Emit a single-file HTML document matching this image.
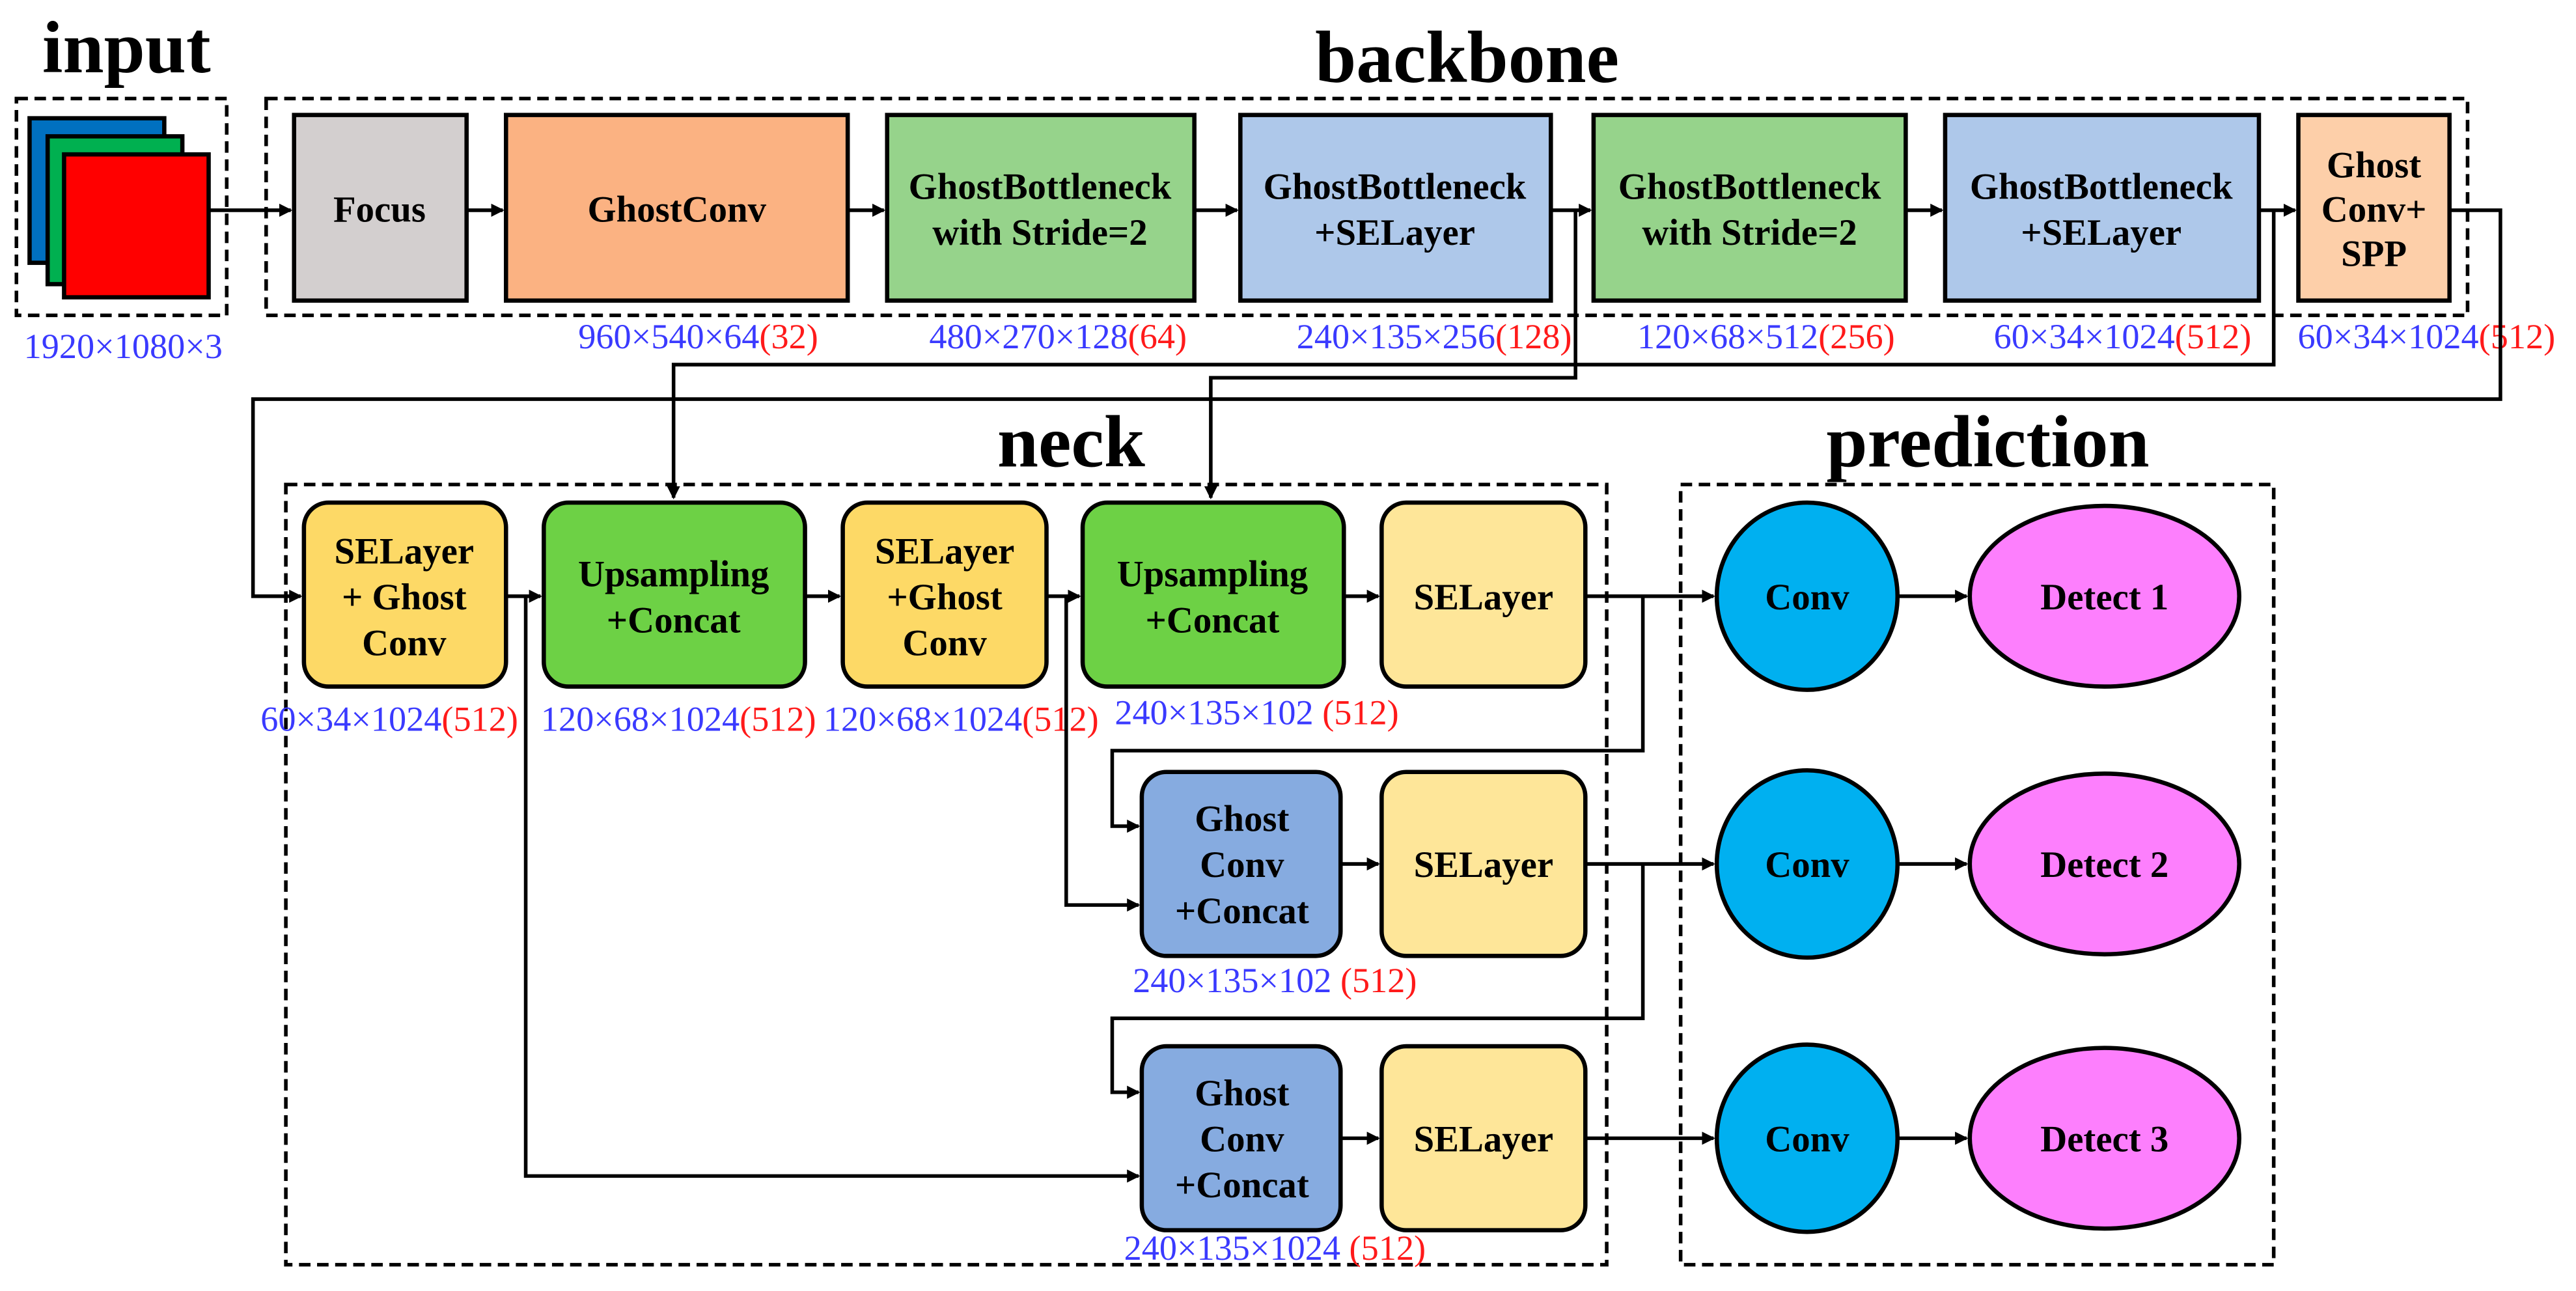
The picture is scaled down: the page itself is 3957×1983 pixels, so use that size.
<!DOCTYPE html>
<html><head><meta charset="utf-8"><style>
html,body{margin:0;padding:0;background:#fff;}
svg{display:block;}
text{font-family:"Liberation Serif",serif;}
.t{font-weight:bold;font-size:22.5px;text-anchor:middle;fill:#000;}
.h{font-weight:bold;font-size:45px;text-anchor:middle;fill:#000;}
.l{font-size:21.5px;text-anchor:middle;fill:#3a3aff;}
.r{fill:#ff1a1a;}
.dash{fill:none;stroke:#000;stroke-width:2.2;stroke-dasharray:7,4;}
.b{stroke:#000;stroke-width:2.6;}
.ln{fill:none;stroke:#000;stroke-width:2.2;}
</style></head><body>
<svg width="3957" height="1983" viewBox="0 0 1568 786" preserveAspectRatio="none" xmlns="http://www.w3.org/2000/svg">
<defs><marker id="a" markerWidth="8" markerHeight="8" refX="7" refY="4" orient="auto" markerUnits="userSpaceOnUse"><path d="M0,0 L8,4 L0,8 z" fill="#000"/></marker></defs>
<rect width="1568" height="786" fill="#fff"/>
<text class="h" x="77" y="44">input</text>
<text class="h" x="893" y="50">backbone</text>
<text class="h" x="652" y="284">neck</text>
<text class="h" x="1210" y="284">prediction</text>
<rect class="dash" x="10" y="60" width="128" height="132"/>
<rect class="dash" x="162" y="60" width="1340" height="132"/>
<rect class="dash" x="174" y="295" width="804" height="475"/>
<rect class="dash" x="1023" y="295" width="361" height="475"/>
<rect class="b" x="18" y="72" width="82" height="88" fill="#0070c0"/>
<rect class="b" x="29" y="83" width="82" height="90" fill="#00b050"/>
<rect class="b" x="39" y="94" width="88" height="87" fill="#ff0000"/>
<text class="l" x="75" y="218">1920×1080×3</text>
<rect class="b" x="179" y="70" width="105" height="113" fill="#d3cfcf"/>
<text class="t" x="231" y="135">Focus</text>
<rect class="b" x="308" y="70" width="208" height="113" fill="#fbb282"/>
<text class="t" x="412" y="135">GhostConv</text>
<rect class="b" x="540" y="70" width="187" height="113" fill="#96d38b"/>
<text class="t" x="633" y="121">GhostBottleneck</text><text class="t" x="633" y="149">with Stride=2</text>
<rect class="b" x="755" y="70" width="189" height="113" fill="#aec8ea"/>
<text class="t" x="849" y="121">GhostBottleneck</text><text class="t" x="849" y="149">+SELayer</text>
<rect class="b" x="970" y="70" width="190" height="113" fill="#96d38b"/>
<text class="t" x="1065" y="121">GhostBottleneck</text><text class="t" x="1065" y="149">with Stride=2</text>
<rect class="b" x="1184" y="70" width="191" height="113" fill="#aec8ea"/>
<text class="t" x="1279" y="121">GhostBottleneck</text><text class="t" x="1279" y="149">+SELayer</text>
<rect class="b" x="1399" y="70" width="92" height="113" fill="#fdcfa9"/>
<text class="t" x="1445" y="108">Ghost</text><text class="t" x="1445" y="135">Conv+</text><text class="t" x="1445" y="162">SPP</text>
<path class="ln" d="M127,128 H177" marker-end="url(#a)"/>
<path class="ln" d="M284,128 H306" marker-end="url(#a)"/>
<path class="ln" d="M516,128 H538" marker-end="url(#a)"/>
<path class="ln" d="M727,128 H753" marker-end="url(#a)"/>
<path class="ln" d="M944,128 H968" marker-end="url(#a)"/>
<path class="ln" d="M1160,128 H1182" marker-end="url(#a)"/>
<path class="ln" d="M1375,128 H1397" marker-end="url(#a)"/>
<text class="l" x="425" y="212">960×540×64<tspan class="r">(32)</tspan></text>
<text class="l" x="644" y="212">480×270×128<tspan class="r">(64)</tspan></text>
<text class="l" x="873" y="212">240×135×256<tspan class="r">(128)</tspan></text>
<text class="l" x="1075" y="212">120×68×512<tspan class="r">(256)</tspan></text>
<text class="l" x="1292" y="212">60×34×1024<tspan class="r">(512)</tspan></text>
<text class="l" x="1477" y="212">60×34×1024<tspan class="r">(512)</tspan></text>
<path class="ln" d="M959,128 V230 H737 V303" marker-end="url(#a)"/>
<path class="ln" d="M1384,128 V222 H410 V303" marker-end="url(#a)"/>
<path class="ln" d="M1491,128 H1522 V243 H154 V363 H183" marker-end="url(#a)"/>
<rect class="b" x="185" y="306" width="123" height="112" rx="15" fill="#fdd966"/>
<text class="t" x="246" y="343">SELayer</text><text class="t" x="246" y="371">+ Ghost</text><text class="t" x="246" y="399">Conv</text>
<rect class="b" x="331" y="306" width="159" height="112" rx="15" fill="#6dd145"/>
<text class="t" x="410" y="357">Upsampling</text><text class="t" x="410" y="385">+Concat</text>
<rect class="b" x="513" y="306" width="124" height="112" rx="15" fill="#fdd966"/>
<text class="t" x="575" y="343">SELayer</text><text class="t" x="575" y="371">+Ghost</text><text class="t" x="575" y="399">Conv</text>
<rect class="b" x="659" y="306" width="159" height="112" rx="15" fill="#6dd145"/>
<text class="t" x="738" y="357">Upsampling</text><text class="t" x="738" y="385">+Concat</text>
<rect class="b" x="841" y="306" width="124" height="112" rx="15" fill="#fee699"/>
<text class="t" x="903" y="371">SELayer</text>
<path class="ln" d="M308,363 H329" marker-end="url(#a)"/>
<path class="ln" d="M490,363 H511" marker-end="url(#a)"/>
<path class="ln" d="M637,363 H657" marker-end="url(#a)"/>
<path class="ln" d="M818,363 H839" marker-end="url(#a)"/>
<text class="l" x="237" y="445">60×34×1024<tspan class="r">(512)</tspan></text>
<text class="l" x="413" y="445">120×68×1024<tspan class="r">(512)</tspan></text>
<text class="l" x="585" y="445">120×68×1024<tspan class="r">(512)</tspan></text>
<text class="l" x="765" y="441">240×135×102 <tspan class="r">(512)</tspan></text>
<rect class="b" x="695" y="470" width="121" height="112" rx="15" fill="#86abe0"/>
<text class="t" x="756" y="506">Ghost</text><text class="t" x="756" y="534">Conv</text><text class="t" x="756" y="562">+Concat</text>
<rect class="b" x="841" y="470" width="124" height="112" rx="15" fill="#fee699"/>
<text class="t" x="903" y="534">SELayer</text>
<path class="ln" d="M816,526 H839" marker-end="url(#a)"/>
<text class="l" x="776" y="604">240×135×102 <tspan class="r">(512)</tspan></text>
<rect class="b" x="695" y="637" width="121" height="112" rx="15" fill="#86abe0"/>
<text class="t" x="756" y="673">Ghost</text><text class="t" x="756" y="701">Conv</text><text class="t" x="756" y="729">+Concat</text>
<rect class="b" x="841" y="637" width="124" height="112" rx="15" fill="#fee699"/>
<text class="t" x="903" y="701">SELayer</text>
<path class="ln" d="M816,693 H839" marker-end="url(#a)"/>
<text class="l" x="776" y="767">240×135×1024 <tspan class="r">(512)</tspan></text>
<path class="ln" d="M320,363 V716 H693" marker-end="url(#a)"/>
<path class="ln" d="M649,363 V551 H693" marker-end="url(#a)"/>
<path class="ln" d="M1000,363 V457 H677 V503 H693" marker-end="url(#a)"/>
<path class="ln" d="M1000,526 V620 H677 V665 H693" marker-end="url(#a)"/>
<path class="ln" d="M965,363 H1043" marker-end="url(#a)"/>
<path class="ln" d="M965,526 H1043" marker-end="url(#a)"/>
<path class="ln" d="M965,693 H1043" marker-end="url(#a)"/>
<ellipse class="b" cx="1100" cy="363" rx="55" ry="57" fill="#00b0f0"/>
<ellipse class="b" cx="1100" cy="526" rx="55" ry="57" fill="#00b0f0"/>
<ellipse class="b" cx="1100" cy="693" rx="55" ry="57" fill="#00b0f0"/>
<text class="t" x="1100" y="371">Conv</text><text class="t" x="1100" y="534">Conv</text><text class="t" x="1100" y="701">Conv</text>
<ellipse class="b" cx="1281" cy="363" rx="82" ry="55" fill="#fd7ffd"/>
<ellipse class="b" cx="1281" cy="526" rx="82" ry="55" fill="#fd7ffd"/>
<ellipse class="b" cx="1281" cy="693" rx="82" ry="55" fill="#fd7ffd"/>
<text class="t" x="1281" y="371">Detect 1</text><text class="t" x="1281" y="534">Detect 2</text><text class="t" x="1281" y="701">Detect 3</text>
<path class="ln" d="M1155,363 H1197" marker-end="url(#a)"/>
<path class="ln" d="M1155,526 H1197" marker-end="url(#a)"/>
<path class="ln" d="M1155,693 H1197" marker-end="url(#a)"/>
</svg>
</body></html>
